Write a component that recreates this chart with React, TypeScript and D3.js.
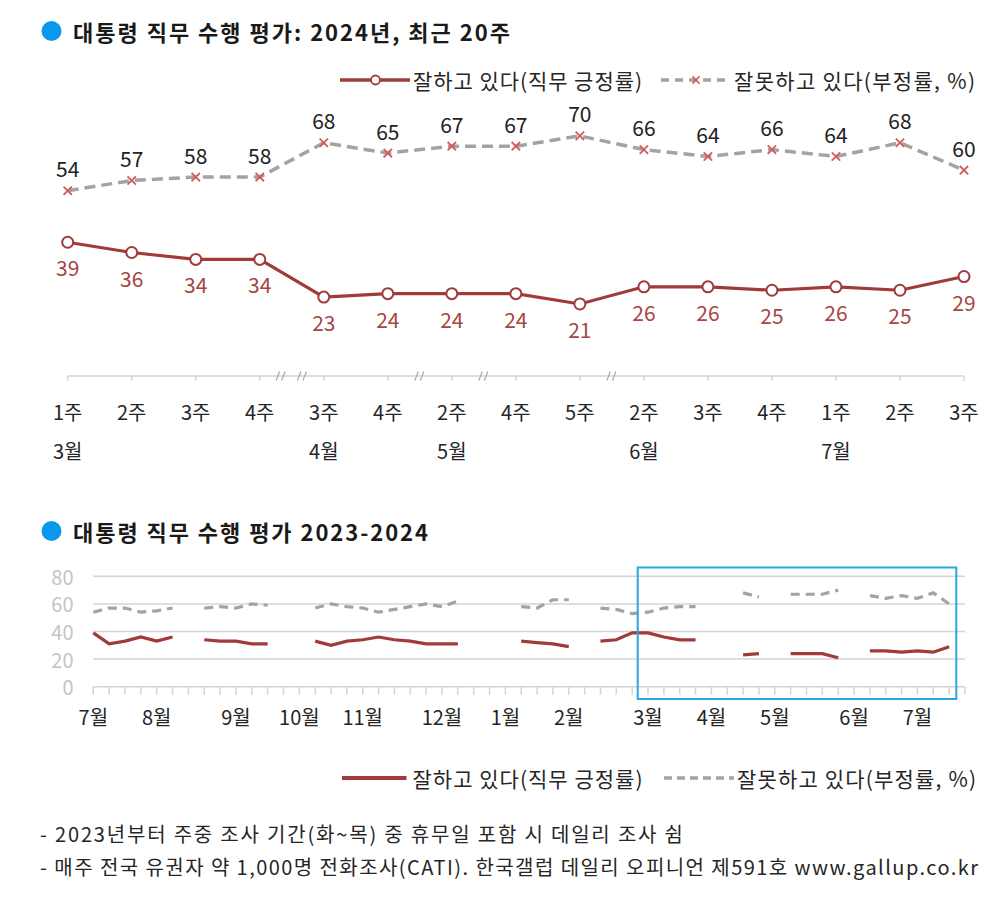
import React from 'react';
import * as d3 from 'd3';

// ---------- Top chart data: 2024, last 20 weeks ----------
const weekLabels = ['1주', '2주', '3주', '4주', '3주', '4주', '2주', '4주', '5주', '2주', '3주', '4주', '1주', '2주', '3주'];
const monthLabels = ['3월', '', '', '', '4월', '', '5월', '', '', '6월', '', '', '7월', '', ''];
const skippedWeeksBefore = [0, 0, 0, 0, 2, 0, 1, 1, 0, 1, 0, 0, 0, 0, 0];
const approve = [39, 36, 34, 34, 23, 24, 24, 24, 21, 26, 26, 25, 26, 25, 29];
const disapprove = [54, 57, 58, 58, 68, 65, 67, 67, 70, 66, 64, 66, 64, 68, 60];

// ---------- Bottom chart data: weekly 2023-07 wk1 .. 2024-07 wk3 ----------
const histApprove: (number | null)[] = [
  39, 31, 33, 36, 33, 36, null, 34, 33, 33, 31, 31, null, null,
  33, 30, 33, 34, 36, 34, 33, 31, 31, 31, null, null, null,
  33, 32, 31, 29, null, 33, 34, 39, 39, 36, 34, 34, null, null,
  23, 24, null, 24, 24, 24, 21, null, 26, 26, 25, 26, 25, 29,
];
const histDisapprove: (number | null)[] = [
  54, 57, 57, 54, 55, 57, null, 57, 58, 57, 60, 59, null, null,
  57, 60, 58, 57, 54, 56, 58, 60, 58, 62, null, null, null,
  58, 57, 63, 63, null, 57, 56, 53, 54, 57, 58, 58, null, null,
  68, 65, null, 67, 67, 67, 70, null, 66, 64, 66, 64, 68, 60,
];
const histMonthLabels = ['7월', '8월', '9월', '10월', '11월', '12월', '1월', '2월', '3월', '4월', '5월', '6월', '7월'];
const histMonthWeekIndex = [0, 4, 9, 13, 17, 22, 26, 30, 35, 39, 43, 48, 52];
const histYTicks = [0, 20, 40, 60, 80];

const legendApprove = '잘하고 있다(직무 긍정률)';
const legendDisapprove = '잘못하고 있다(부정률, %)';
const title1 = '대통령 직무 수행 평가: 2024년, 최근 20주';
const title2 = '대통령 직무 수행 평가 2023-2024';
const note1 = '- 2023년부터 주중 조사 기간(화~목) 중 휴무일 포함 시 데일리 조사 쉼';
const note2 = '- 매주 전국 유권자 약 1,000명 전화조사(CATI). 한국갤럽 데일리 오피니언 제591호 www.gallup.co.kr';

const FONT = "'Noto Sans CJK KR', 'Noto Sans', sans-serif";
const RED = '#a13a3a';
const RED_LABEL = '#a84444';
const GREY = '#a3a3a3';
const XMARK = '#d75a5a';
const BLUE = '#0a98ef';
const BOX = '#2aa6e4';
const TEXT = '#262626';
const AXIS = '#d4d4d4';

function XMark({ x, y, s = 4.2, w = 1.8 }: { x: number; y: number; s?: number; w?: number }) {
  return (
    <g stroke={XMARK} strokeWidth={w}>
      <line x1={x - s} y1={y - s} x2={x + s} y2={y + s} />
      <line x1={x - s} y1={y + s} x2={x + s} y2={y - s} />
    </g>
  );
}

export default function App() {
  // ---- top chart scales ----
  const xTop = d3.scalePoint<number>().domain(d3.range(approve.length)).range([67.7, 964]);
  const yTop = d3.scaleLinear().domain([0, 100]).range([376, 33]);
  const lineTop = d3.line<number>().x((_, i) => xTop(i)!).y((d) => yTop(d));

  const breaks: number[] = [];
  skippedWeeksBefore.forEach((n, i) => {
    for (let k = 1; k <= n; k++) {
      const x0 = xTop(i - 1)!;
      const x1 = xTop(i)!;
      breaks.push(x0 + ((x1 - x0) * k) / (n + 1));
    }
  });

  // ---- bottom chart scales ----
  const nSlots = histApprove.length + 1;
  const xBot = d3.scalePoint<number>().domain(d3.range(nSlots)).range([93.3, 965]);
  const yBot = d3.scaleLinear().domain([0, 80]).range([686.7, 576.3]);
  const lineBot = d3
    .line<number | null>()
    .defined((d) => d != null)
    .x((_, i) => xBot(i)!)
    .y((d) => yBot(d as number));
  const step = xBot.step();
  const weeksShown = approve.length + d3.sum(skippedWeeksBefore);
  const hlStart = histApprove.length - weeksShown;
  const hlEnd = histApprove.length - 1;

  return (
    <svg
      width={1004}
      height={910}
      style={{ position: 'absolute', left: 0, top: 0, background: '#fff' }}
      fontFamily={FONT}
    >
      <rect x={0} y={0} width={1004} height={910} fill="#fff" />

      {/* ===== Title 1 ===== */}
      <circle cx={51.5} cy={31} r={10} fill={BLUE} />
      <text x={73} y={31} dominantBaseline="central" fontSize={22} fontWeight={700} fill="#1a1a1a" textLength={437} lengthAdjust="spacing">
        {title1}
      </text>

      {/* ===== Top legend ===== */}
      <g>
        <line x1={340} y1={80} x2={410} y2={80} stroke={RED} strokeWidth={3.5} />
        <circle cx={375.5} cy={80} r={4.5} fill="#fff" stroke={RED} strokeWidth={1.8} />
        <text x={413} y={80} dominantBaseline="central" fontSize={21} fill={TEXT} textLength={229} lengthAdjust="spacing">
          {legendApprove}
        </text>
        <line x1={661} y1={80} x2={731} y2={80} stroke={GREY} strokeWidth={3.5} strokeDasharray="8,6" />
        <XMark x={696} y={80} s={3.6} w={1.6} />
        <text x={734} y={80} dominantBaseline="central" fontSize={21} fill={TEXT} textLength={241} lengthAdjust="spacing">
          {legendDisapprove}
        </text>
      </g>

      {/* ===== Top chart axis ===== */}
      <line x1={xTop(0)!} y1={yTop(0)} x2={xTop(approve.length - 1)!} y2={yTop(0)} stroke={AXIS} strokeWidth={1.5} />
      {approve.map((_, i) => (
        <line key={'tt' + i} x1={xTop(i)!} y1={yTop(0)} x2={xTop(i)!} y2={yTop(0) + 5} stroke={AXIS} strokeWidth={1.5} />
      ))}
      {breaks.map((bx, i) => (
        <g key={'br' + i} stroke="#aaaaaa" strokeWidth={1.2}>
          <line x1={bx - 5} y1={yTop(0) + 4.5} x2={bx - 1.5} y2={yTop(0) - 4.5} />
          <line x1={bx + 0.5} y1={yTop(0) + 4.5} x2={bx + 4} y2={yTop(0) - 4.5} />
        </g>
      ))}
      {weekLabels.map((t, i) => (
        <text key={'wl' + i} x={xTop(i)!} y={411.5} textAnchor="middle" dominantBaseline="central" fontSize={20} fill={TEXT}>
          {t}
        </text>
      ))}
      {monthLabels.map((t, i) =>
        t ? (
          <text key={'ml' + i} x={xTop(i)!} y={450} textAnchor="middle" dominantBaseline="central" fontSize={20} fill={TEXT}>
            {t}
          </text>
        ) : null
      )}

      {/* ===== Top chart lines ===== */}
      <path d={lineTop(disapprove)!} fill="none" stroke={GREY} strokeWidth={3.5} strokeDasharray="11,6" />
      {disapprove.map((v, i) => (
        <XMark key={'xm' + i} x={xTop(i)!} y={yTop(v)} />
      ))}
      {disapprove.map((v, i) => (
        <text key={'dl' + i} x={xTop(i)!} y={yTop(v) - 22.5} textAnchor="middle" dominantBaseline="central" fontSize={21} fill="#222">
          {v}
        </text>
      ))}

      <path d={lineTop(approve)!} fill="none" stroke={RED} strokeWidth={3.2} />
      {approve.map((v, i) => (
        <circle key={'cm' + i} cx={xTop(i)!} cy={yTop(v)} r={5.5} fill="#fff" stroke={RED} strokeWidth={2} />
      ))}
      {approve.map((v, i) => (
        <text key={'al' + i} x={xTop(i)!} y={yTop(v) + 25} textAnchor="middle" dominantBaseline="central" fontSize={21} fill={RED_LABEL}>
          {v}
        </text>
      ))}

      {/* ===== Title 2 ===== */}
      <circle cx={51.5} cy={531} r={10} fill={BLUE} />
      <text x={73} y={531} dominantBaseline="central" fontSize={22} fontWeight={700} fill="#1a1a1a" textLength={355} lengthAdjust="spacing">
        {title2}
      </text>

      {/* ===== Bottom chart ===== */}
      {histYTicks.map((t) => (
        <g key={'yg' + t}>
          <line x1={xBot(0)!} y1={yBot(t)} x2={xBot(nSlots - 1)!} y2={yBot(t)} stroke={AXIS} strokeWidth={1.5} />
          <text x={73.5} y={yBot(t)} textAnchor="end" dominantBaseline="central" fontSize={20} fill="#c4c4c4">
            {t}
          </text>
        </g>
      ))}
      {d3.range(nSlots).map((i) => (
        <line key={'bt' + i} x1={xBot(i)!} y1={yBot(0)} x2={xBot(i)!} y2={yBot(0) + 8} stroke={AXIS} strokeWidth={1.5} />
      ))}
      {histMonthLabels.map((t, k) => (
        <text key={'hm' + k} x={xBot(histMonthWeekIndex[k])!} y={716.5} textAnchor="middle" dominantBaseline="central" fontSize={20} fill={TEXT}>
          {t}
        </text>
      ))}
      <path d={lineBot(histDisapprove)!} fill="none" stroke={GREY} strokeWidth={3.2} strokeDasharray="9,6" />
      <path d={lineBot(histApprove)!} fill="none" stroke={RED} strokeWidth={3.2} />
      <rect
        x={xBot(hlStart)! - 0.65 * step}
        y={567.5}
        width={xBot(hlEnd)! - xBot(hlStart)! + 1.1 * step}
        height={131.5}
        fill="none"
        stroke={BOX}
        strokeWidth={2}
      />

      {/* ===== Bottom legend ===== */}
      <line x1={342} y1={778} x2={406.5} y2={778} stroke={RED} strokeWidth={4} />
      <text x={412.5} y={778} dominantBaseline="central" fontSize={21} fill={TEXT} textLength={230} lengthAdjust="spacing">
        {legendApprove}
      </text>
      <line x1={664} y1={778} x2={734} y2={778} stroke={GREY} strokeWidth={3.5} strokeDasharray="8,5" />
      <text x={737} y={778} dominantBaseline="central" fontSize={21} fill={TEXT} textLength={239} lengthAdjust="spacing">
        {legendDisapprove}
      </text>

      {/* ===== Footnotes ===== */}
      <text x={40} y={833} dominantBaseline="central" fontSize={20} fill={TEXT} textLength={643} lengthAdjust="spacing">
        {note1}
      </text>
      <text x={40} y={866} dominantBaseline="central" fontSize={20} fill={TEXT} textLength={938} lengthAdjust="spacing">
        {note2}
      </text>
    </svg>
  );
}
